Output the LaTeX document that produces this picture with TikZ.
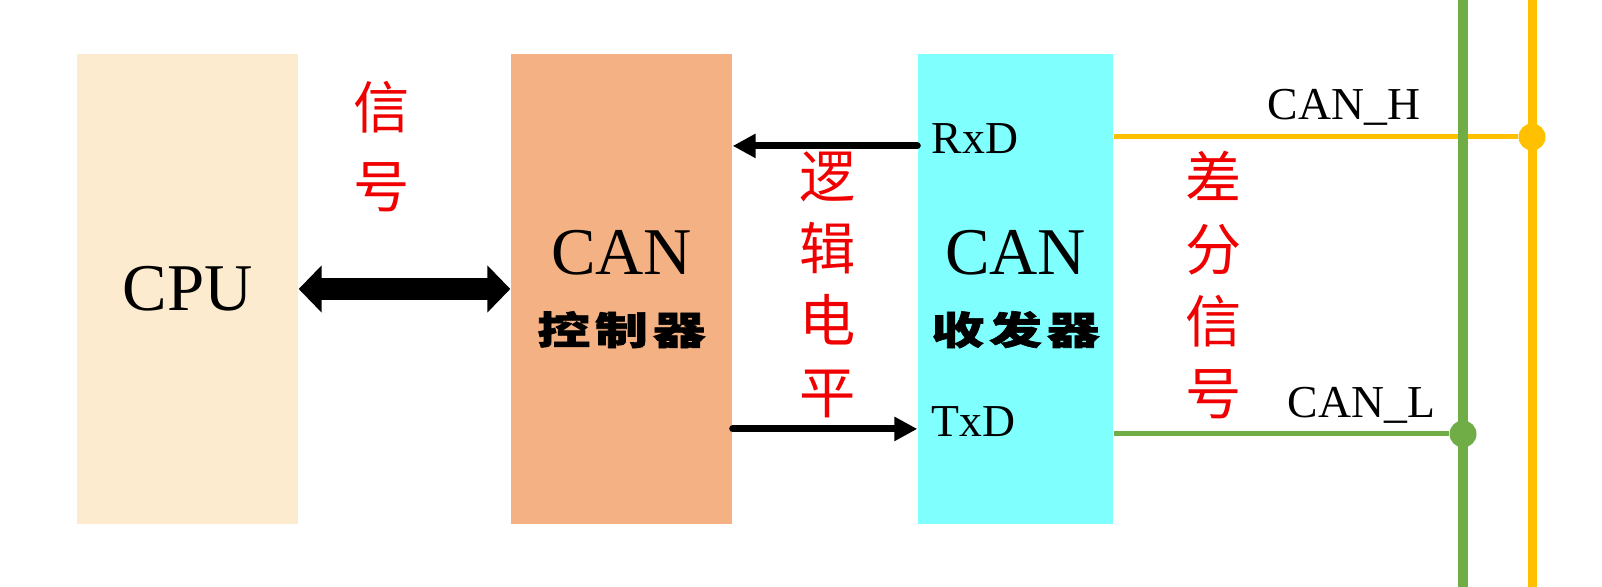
\documentclass[tikz,border=0pt]{standalone}
\usepackage{fontspec}
\setmainfont{Liberation Serif}
\newfontfamily\cjk{Noto Sans CJK SC}
\newfontfamily\cjkheavy[BoldFeatures={FakeBold=1.5}]{Noto Sans CJK SC}
\definecolor{CpuCream}{RGB}{253,235,208}
\definecolor{CtrlSalmon}{RGB}{244,177,131}
\definecolor{TrxCyan}{RGB}{128,255,255}
\definecolor{BusGreen}{RGB}{112,173,71}
\definecolor{BusOrange}{RGB}{255,192,0}
\definecolor{SigRed}{RGB}{240,0,0}
\usetikzlibrary{arrows.meta, positioning, calc}
\newcommand{\blocksub}[1]{{\cjkheavy\bfseries\fontsize{15}{16}\selectfont\scalebox{1}[0.73]{#1}}}

\begin{document}
\begin{tikzpicture}[
    block/.style={inner sep=0pt, minimum width=2.21cm, minimum height=4.70cm,
                  align=center, font=\fontsize{19}{22}\selectfont},
    redtag/.style={text=SigRed, align=center, font=\cjk\fontsize{16}{20.5}\selectfont},
    pinlbl/.style={font=\fontsize{13}{15}\selectfont, anchor=base west, inner sep=0pt},
    sigline/.style={-{Triangle[length=0.23cm, width=0.23cm]}, line width=0.07cm, line cap=round},
    busdot/.style={circle, inner sep=0pt, minimum size=0.27cm}
  ]
      \useasboundingbox (0,0) rectangle (16.02,5.87);

      % the three blocks
      \node[block, fill=CpuCream]   (cpu)  at (1.875, 2.98) {CPU};
      \node[block, fill=CtrlSalmon] (ctrl) at (6.215, 2.98)
            {CAN\\[-2pt]\blocksub{控\hspace{0.05cm}制\hspace{0.05cm}器}};
      \node[block, fill=TrxCyan, minimum width=1.95cm] (trx) at (10.155, 2.98)
            {CAN\\[-2pt]\blocksub{收\hspace{0.05cm}发\hspace{0.05cm}器}};

      % cpu <-> controller
      \draw[{Triangle[length=0.23cm, width=0.46cm]}-{Triangle[length=0.23cm, width=0.46cm]},
            line width=0.22cm] (cpu.east) -- (ctrl.west);
      \node[redtag, font=\cjk\fontsize{16}{22.5}\selectfont] (sig) at (3.82, 4.40) {信\\号};

      % logic level pins
      \node[pinlbl] (rxd) at (9.31, 4.33) {RxD};
      \node[pinlbl] (txd) at (9.31, 1.50) {TxD};
      \draw[sigline] (trx.west |- rxd.mid west) -- (ctrl.east |- rxd.mid west);
      \draw[sigline] (ctrl.east |- txd.mid west) -- (trx.west |- txd.mid west);
      \node[redtag] (logic) at (8.28, 3.02) {逻\\辑\\电\\平};

      % bus wires
      \node[busdot, fill=BusOrange] (hdot) at (15.32, 4.50) {};
      \node[busdot, fill=BusGreen]  (ldot) at (14.63, 1.53) {};
      \draw[BusOrange, line width=0.05cm] (trx.east |- hdot) -- (hdot);
      \draw[BusOrange, line width=0.09cm]
            (hdot |- current bounding box.north) -- (hdot |- current bounding box.south);
      \draw[BusGreen, line width=0.10cm]
            (ldot |- current bounding box.north) -- (ldot |- current bounding box.south);
      \draw[BusGreen, line width=0.05cm] (trx.east |- ldot) -- (ldot);

      \node[pinlbl] (canh) at (12.67, 4.67) {CAN\_H};
      \node[pinlbl] (canl) at (12.87, 1.69) {CAN\_L};
      \node[redtag] (diff) at (12.14, 3.02) {差\\分\\信\\号};
\end{tikzpicture}
\end{document}
